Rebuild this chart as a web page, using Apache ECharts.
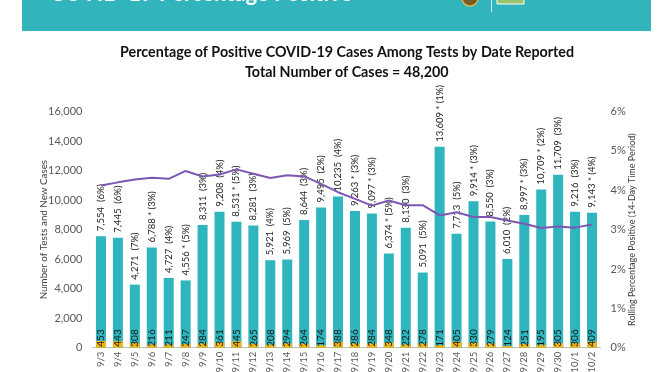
<!DOCTYPE html>
<html>
<head>
<meta charset="utf-8">
<script src="https://cdn.jsdelivr.net/npm/echarts@6/dist/echarts.min.js"></script>
<style>
html,body{margin:0;padding:0;background:#fff;}
#chart{width:672px;height:372px;}
</style>
</head>
<body>
<div id="chart"></div>
<script>
const dates = ['9/3','9/4','9/5','9/6','9/7','9/8','9/9','9/10','9/11','9/12','9/13','9/14','9/15','9/16','9/17','9/18','9/19','9/20','9/21','9/22','9/23','9/24','9/25','9/26','9/27','9/28','9/29','9/30','10/1','10/2'];
const tests = [7554,7445,4271,6788,4727,4556,8311,9208,8531,8281,5921,5969,8644,9495,10235,9263,9097,6374,8130,5091,13609,7713,9914,8550,6010,8997,10709,11709,9216,9143];
const cases = [453,443,308,216,211,247,284,361,445,265,208,294,264,174,388,286,284,348,222,278,171,405,330,279,124,251,195,305,306,409];
const dailyPct = [6,6,7,3,4,5,3,4,5,3,4,5,3,2,4,3,3,5,3,5,1,5,3,3,2,3,2,3,3,4];
const starred = [0,0,0,1,0,1,0,0,1,0,0,0,0,0,0,1,1,1,0,0,1,0,1,0,0,1,1,0,0,1];
const rolling = [4.12,4.20,4.27,4.32,4.29,4.49,4.35,4.40,4.53,4.42,4.31,4.38,4.35,4.16,3.95,3.78,3.61,3.74,3.62,3.62,3.36,3.44,3.32,3.32,3.23,3.15,3.04,3.08,3.05,3.13];
const leftTicks = {min:0, max:16000, interval:2000};
const rightTicks = {min:0, max:6, interval:1};

const FONT = 'Lato';
const fmt = v => v.toLocaleString('en-US');

const chart = echarts.init(document.getElementById('chart'), null, {renderer:'canvas'});
chart.setOption({
  backgroundColor:'#ffffff',
  animation:false,
  textStyle:{fontFamily:FONT},
  graphic:[
    {type:'rect', shape:{x:22,y:0,width:629,height:31}, style:{fill:'#31b4bb'}},
    {type:'text', left:50, top:-17, style:{text:'COVID-19 Percentage Positive', fill:'#ffffff', font:'bold 22px '+FONT}},
    {type:'circle', shape:{cx:470, cy:-2, r:8}, style:{fill:'#7a5a1e', stroke:'#d9b65a', lineWidth:1.5}},
    {type:'rect', shape:{x:491,y:0,width:1,height:12}, style:{fill:'#d8f0f1'}},
    {type:'rect', shape:{x:497,y:-5,width:27,height:9}, style:{fill:'#9cc46a', stroke:'#ffffff', lineWidth:1}},
    {type:'text', left:530, top:-14, style:{text:'SAN DIEGO', fill:'#ffffff', font:'17px '+FONT}},
    {type:'text', left:120, top:45, style:{text:'Percentage of Positive COVID-19 Cases Among Tests by Date Reported', fill:'#111111', font:'bold 14.3px '+FONT}},
    {type:'text', left:245, top:65, style:{text:'Total Number of Cases = 48,200', fill:'#111111', font:'bold 14.3px '+FONT}}
  ],
  grid:{left:92.5, right:71.5, top:111.5, bottom:24.3, outerBoundsMode:'none', containLabel:false},
  xAxis:{
    type:'category', data:dates,
    axisLine:{lineStyle:{color:'#bfbfbf'}},
    axisTick:{show:false},
    axisLabel:{rotate:90, color:'#595959', fontSize:9.5, margin:4, interval:0}
  },
  yAxis:[
    {type:'value', min:leftTicks.min, max:leftTicks.max, interval:leftTicks.interval,
     splitLine:{show:false}, axisLine:{show:false}, axisTick:{show:false},
     axisLabel:{color:'#595959', fontSize:11, margin:10, formatter:v=>fmt(v)},
     name:'Number of Tests and New Cases', nameLocation:'middle', nameGap:44, nameRotate:90, nameMoveOverlap:false,
     nameTextStyle:{color:'#404040', fontSize:9.8}},
    {type:'value', min:rightTicks.min, max:rightTicks.max, interval:rightTicks.interval, position:'right',
     splitLine:{show:false}, axisLine:{show:false}, axisTick:{show:false},
     axisLabel:{color:'#595959', fontSize:11, margin:10, formatter:'{value}%'},
     name:'Rolling Percentage Positive (14-Day Time Period)', nameLocation:'middle', nameGap:27, nameRotate:90, nameMoveOverlap:false,
     nameTextStyle:{color:'#404040', fontSize:9, padding:[0,0,46,0]}}
  ],
  series:[
    {type:'bar', name:'Tests', data:tests, barWidth:10, barGap:'-100%', itemStyle:{color:'#2eb5bd'},
     label:{show:true, position:'top', rotate:90, align:'left', verticalAlign:'middle', distance:5,
       fontSize:9.5, color:'#262626',
       formatter:p=>fmt(tests[p.dataIndex]) + (starred[p.dataIndex] ? ' * ' : '  ') + '(' + dailyPct[p.dataIndex] + '%)'}},
    {type:'bar', name:'Cases', data:cases, barWidth:10, barGap:'-100%', itemStyle:{color:'#f2b51b'}, z:3,
     label:{show:true, position:'insideBottom', rotate:90, align:'left', verticalAlign:'middle', distance:1,
       fontSize:10, color:'#1a1a1a', formatter:p=>String(cases[p.dataIndex])}},
    {type:'line', name:'Rolling', yAxisIndex:1, data:rolling, showSymbol:false, symbol:'none',
     lineStyle:{color:'#7e57b2', width:2}, z:5}
  ]
});
</script>
</body>
</html>
